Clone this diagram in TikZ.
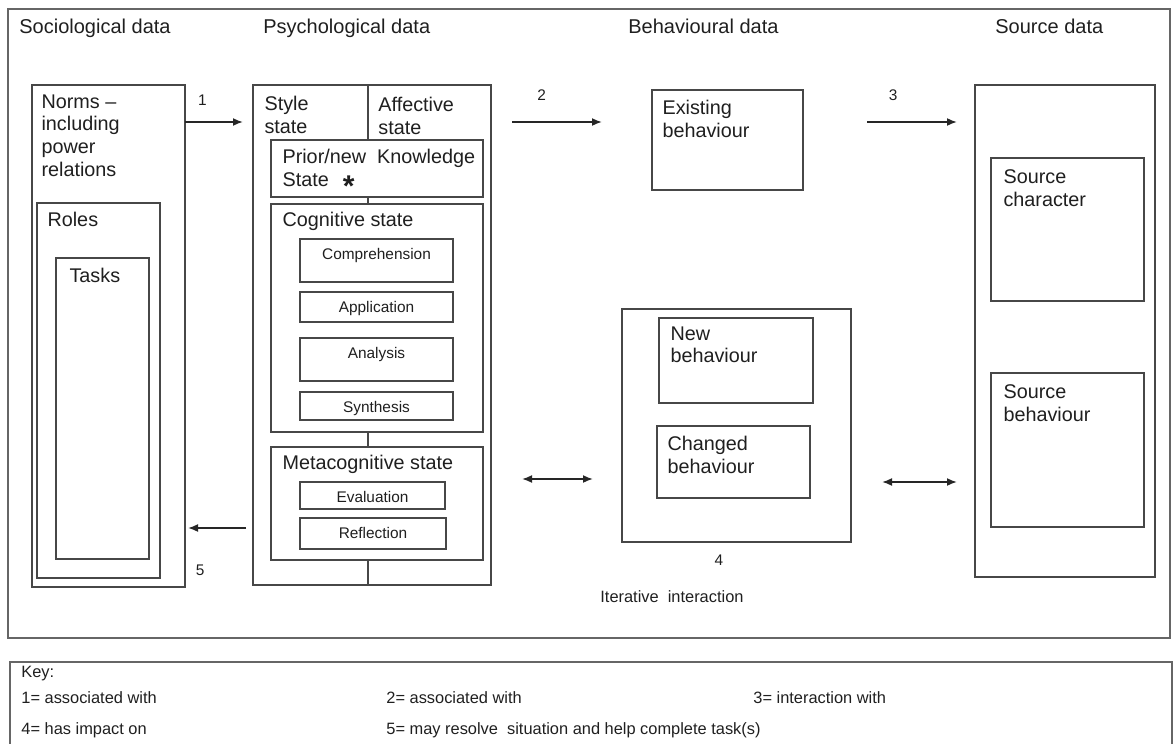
\documentclass[tikz,border=0pt]{standalone}
\usepackage{fontspec}
\setmainfont{Liberation Sans}
\usetikzlibrary{positioning, fit, arrows.meta}

\begin{document}
\begin{tikzpicture}[x=0.5pt, y=-0.5pt]
\tikzstyle{box} = [draw=black!72, line width=0.85pt, inner sep=0pt]
\tikzstyle{frame} = [draw=black!60, line width=1pt, inner sep=0pt]
\tikzstyle{txt} = [font=\fontsize{9.9}{11.4}\selectfont, align=left, inner sep=0pt, text=black!88]
\tikzstyle{head} = [font=\fontsize{10}{12}\selectfont, anchor=base west, inner sep=0pt, text=black!88]
\tikzstyle{small} = [font=\fontsize{7.7}{9}\selectfont, inner sep=0pt, text=black!88]
\tikzstyle{keytxt} = [font=\fontsize{8.2}{10}\selectfont, anchor=base west, inner sep=0pt, text=black!88]
\tikzstyle{link} = [line width=0.85pt, draw=black!85, -{Latex[length=5pt,width=4pt]}]
\tikzstyle{twoway} = [line width=0.85pt, draw=black!85, {Latex[length=5pt,width=4pt]}-{Latex[length=5pt,width=4pt]}]

\useasboundingbox (0,0) rectangle (1174,744);

% outer frame and key
\node (frame) [frame, fit={(8,9) (1170,638)}] {};
\node (key) [frame, fit={(10,662) (1172,760)}] {};

% column headings
\node (soc) [head] at (19,33) {Sociological data};
\node (psy) [head] at (263,33) {Psychological data};
\node (beh) [head] at (628,33) {Behavioural data};
\node (sou) [head] at (995,33) {Source data};

% sociological column
\node (norms) [box, fit={(32,85) (185,587)}] {};
\node (roles) [box, fit={(37,203) (160,578)}] {};
\node (tasks) [box, fit={(56,258) (149,559)}] {};
\node (normstxt) [txt, below right=5pt and 5pt of norms.north west] {Norms --\\including\\power\\relations};
\node (rolestxt) [txt, below right=5pt and 5.5pt of roles.north west] {Roles};
\node (taskstxt) [txt, below right=5.5pt and 7pt of tasks.north west] {Tasks};

% psychological column
\node (psych) [box, fit={(253,85) (491,585)}] {};
\coordinate (split) at (368,85);
\node (prior) [box, fit={(271,140) (483,197)}] {};
\node (cogn) [box, fit={(271,204) (483,432)}] {};
\node (compr) [box, fit={(300,239) (453,282)}] {};
\node (appl) [box, fit={(300,292) (453,322)}] {};
\node (anal) [box, fit={(300,338) (453,381)}] {};
\node (synth) [box, fit={(300,392) (453,420)}] {};
\node (meta) [box, fit={(271,447) (483,560)}] {};
\node (evalu) [box, fit={(300,482) (445,509)}] {};
\node (refl) [box, fit={(300,518) (446,549)}] {};

\draw [box] (split) -- (split |- prior.north);
\draw [box] (split |- prior.south) -- (split |- cogn.north);
\draw [box] (split |- cogn.south) -- (split |- meta.north);
\draw [box] (split |- meta.south) -- (split |- psych.south);

\node (styletxt) [txt, below right=6pt and 6pt of psych.north west] {Style\\state};
\node (afftxt) [txt, below right=6pt and 5pt of split] {Affective\\state};
\node (priortxt) [txt, below right=5pt and 6pt of prior.north west] {Prior/new\ \ Knowledge\\State\hspace{7pt}\raisebox{-5pt}{\fontsize{15}{15}\selectfont\bfseries *}};
\node (cogntxt) [txt, below right=4.5pt and 6pt of cogn.north west] {Cognitive state};
\node (metatxt) [txt, below right=4.5pt and 6pt of meta.north west] {Metacognitive state};
\node (comprtxt) [small, below=4.8pt of compr.north] {Comprehension};
\node (appltxt) [small, below=4.8pt of appl.north] {Application};
\node (analtxt) [small, below=4.8pt of anal.north] {Analysis};
\node (synthtxt) [small, below=4.8pt of synth.north] {Synthesis};
\node (evalutxt) [small, below=4.8pt of evalu.north] {Evaluation};
\node (refltxt) [small, below=4.8pt of refl.north] {Reflection};

% behavioural column
\node (exist) [box, fit={(652,90) (803,190)}] {};
\node (iter) [box, fit={(622,309) (851,542)}] {};
\node (newb) [box, fit={(659,318) (813,403)}] {};
\node (chgb) [box, fit={(657,426) (810,498)}] {};
\node (existtxt) [txt, below right=5.5pt and 5.5pt of exist.north west] {Existing\\behaviour};
\node (newbtxt) [txt, below right=4.5pt and 6pt of newb.north west] {New\\behaviour};
\node (chgbtxt) [txt, below right=5.5pt and 5.5pt of chgb.north west] {Changed\\behaviour};
\node (four) [small] at (719,560) {4};
\node (itertxt) [keytxt] at (600,602) {Iterative\ \ interaction};

% source column
\node (src) [box, fit={(975,85) (1155,577)}] {};
\node (srcchar) [box, fit={(991,158) (1144,301)}] {};
\node (srcbeh) [box, fit={(991,373) (1144,527)}] {};
\node (srcchartxt) [txt, below right=6pt and 6.5pt of srcchar.north west] {Source\\character};
\node (srcbehtxt) [txt, below right=6pt and 6.5pt of srcbeh.north west] {Source\\behaviour};

% connectors
\coordinate (a1s) at (185,122); \coordinate (a1e) at (243,122);
\coordinate (a2s) at (512,122); \coordinate (a2e) at (602,122);
\coordinate (a3s) at (867,122); \coordinate (a3e) at (957,122);
\coordinate (a5s) at (246,528); \coordinate (a5e) at (188,528);
\coordinate (b1s) at (522,479); \coordinate (b1e) at (593,479);
\coordinate (b2s) at (882,482); \coordinate (b2e) at (957,482);

\draw [link] (a1s) -- node (n1) [small, pos=0.3, above=8pt] {1} (a1e);
\draw [link] (a2s) -- node (n2) [small, pos=0.33, above=10.5pt] {2} (a2e);
\draw [link] (a3s) -- node (n3) [small, pos=0.29, above=10.5pt] {3} (a3e);
\draw [link] (a5s) -- node (n5) [small, pos=0.79, below=18pt] {5} (a5e);
\draw [twoway] (b1s) -- (b1e);
\draw [twoway] (b2s) -- (b2e);

% key
\node (keyhead) [keytxt] at (21,677) {Key:};
\node (k1) [keytxt] at (21,703) {1= associated with};
\node (k2) [keytxt] at (386,703) {2= associated with};
\node (k3) [keytxt] at (753,703) {3= interaction with};
\node (k4) [keytxt] at (21,734) {4= has impact on};
\node (k5) [keytxt] at (386,734) {5= may resolve\ \ situation and help complete task(s)};
\end{tikzpicture}
\end{document}
